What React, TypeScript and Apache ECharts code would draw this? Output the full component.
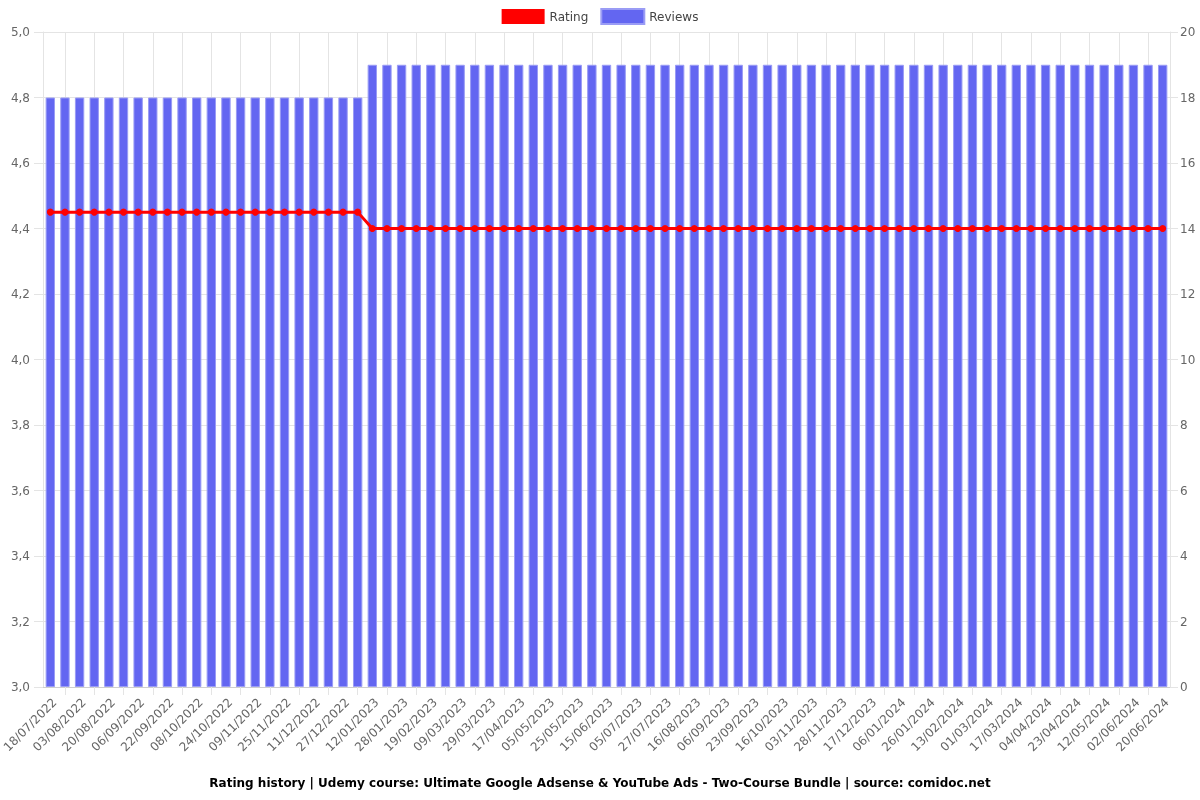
import React, { useEffect, useRef } from "react";
import * as echarts from "echarts";

const dates: string[] = [
  "18/07/2022", "26/07/2022", "03/08/2022", "12/08/2022", "20/08/2022", "29/08/2022",
  "06/09/2022", "14/09/2022", "22/09/2022", "30/09/2022", "08/10/2022", "16/10/2022",
  "24/10/2022", "01/11/2022", "09/11/2022", "17/11/2022", "25/11/2022", "03/12/2022",
  "11/12/2022", "19/12/2022", "27/12/2022", "04/01/2023", "12/01/2023", "20/01/2023",
  "28/01/2023", "08/02/2023", "19/02/2023", "28/02/2023", "09/03/2023", "19/03/2023",
  "29/03/2023", "07/04/2023", "17/04/2023", "26/04/2023", "05/05/2023", "15/05/2023",
  "25/05/2023", "04/06/2023", "15/06/2023", "25/06/2023", "05/07/2023", "16/07/2023",
  "27/07/2023", "06/08/2023", "16/08/2023", "27/08/2023", "06/09/2023", "15/09/2023",
  "23/09/2023", "04/10/2023", "16/10/2023", "25/10/2023", "03/11/2023", "15/11/2023",
  "28/11/2023", "07/12/2023", "17/12/2023", "27/12/2023", "06/01/2024", "16/01/2024",
  "26/01/2024", "04/02/2024", "13/02/2024", "21/02/2024", "01/03/2024", "09/03/2024",
  "17/03/2024", "26/03/2024", "04/04/2024", "13/04/2024", "23/04/2024", "02/05/2024",
  "12/05/2024", "22/05/2024", "02/06/2024", "11/06/2024", "20/06/2024",
];

const ratings: number[] = [
  4.45, 4.45, 4.45, 4.45, 4.45, 4.45, 4.45, 4.45, 4.45, 4.45, 4.45,
  4.45, 4.45, 4.45, 4.45, 4.45, 4.45, 4.45, 4.45, 4.45, 4.45, 4.45,
  4.4, 4.4, 4.4, 4.4, 4.4, 4.4, 4.4, 4.4, 4.4, 4.4, 4.4,
  4.4, 4.4, 4.4, 4.4, 4.4, 4.4, 4.4, 4.4, 4.4, 4.4, 4.4,
  4.4, 4.4, 4.4, 4.4, 4.4, 4.4, 4.4, 4.4, 4.4, 4.4, 4.4,
  4.4, 4.4, 4.4, 4.4, 4.4, 4.4, 4.4, 4.4, 4.4, 4.4, 4.4,
  4.4, 4.4, 4.4, 4.4, 4.4, 4.4, 4.4, 4.4, 4.4, 4.4, 4.4,
];

const reviews: number[] = [
  18, 18, 18, 18, 18, 18, 18, 18, 18, 18, 18,
  18, 18, 18, 18, 18, 18, 18, 18, 18, 18, 18,
  19, 19, 19, 19, 19, 19, 19, 19, 19, 19, 19,
  19, 19, 19, 19, 19, 19, 19, 19, 19, 19, 19,
  19, 19, 19, 19, 19, 19, 19, 19, 19, 19, 19,
  19, 19, 19, 19, 19, 19, 19, 19, 19, 19, 19,
  19, 19, 19, 19, 19, 19, 19, 19, 19, 19, 19,
];

const titleText =
  "Rating history | Udemy course: Ultimate Google Adsense & YouTube Ads - Two-Course Bundle | source: comidoc.net";

const FONT = "DejaVu Sans";
const GRID_COLOR = "#e4e4e4";
const LABEL_COLOR = "#666";

export default function App() {
  const ref = useRef<HTMLDivElement>(null);

  useEffect(() => {
    if (!ref.current) return;
    const chart = echarts.init(ref.current, null, { renderer: "svg" });
    const oddOnly = (i: number) => i % 2 === 1;
    chart.setOption({
      animation: false,
      textStyle: { fontFamily: FONT },
      title: {
        text: titleText,
        left: "center",
        top: 772,
        textStyle: { fontFamily: FONT, fontSize: 12, fontWeight: "bold", color: "#000" },
      },
      legend: {
        top: 3,
        left: "center",
        itemWidth: 43,
        itemHeight: 15,
        itemGap: 12,
        icon: "rect",
        textStyle: { fontFamily: FONT, fontSize: 12, color: "#444" },
        data: ["Rating", "Reviews"],
      },
      grid: {
        left: 43,
        right: 30,
        top: 32,
        bottom: 113,
        containLabel: false,
        outerBoundsMode: "none",
      },
      xAxis: {
        type: "category",
        data: dates,
        boundaryGap: true,
        axisLine: { show: true, lineStyle: { color: "#cfcfcf" } },
        axisTick: {
          show: true,
          alignWithLabel: true,
          interval: oddOnly,
          length: 8,
          lineStyle: { color: GRID_COLOR },
        },
        splitLine: {
          show: true,
          alignWithLabel: true,
          interval: oddOnly,
          lineStyle: { color: GRID_COLOR },
        },
        axisLabel: {
          interval: 1,
          rotate: 45,
          verticalAlign: "top",
          fontFamily: FONT,
          fontSize: 12,
          color: LABEL_COLOR,
          margin: 9,
        },
      },
      yAxis: [
        {
          type: "value",
          min: 3,
          max: 5,
          interval: 0.2,
          position: "left",
          axisLine: { show: true, lineStyle: { color: GRID_COLOR } },
          axisTick: { show: true, length: 9, lineStyle: { color: GRID_COLOR } },
          splitLine: { show: true, lineStyle: { color: GRID_COLOR } },
          axisLabel: {
            fontFamily: FONT,
            fontSize: 12,
            color: LABEL_COLOR,
            margin: 13,
            formatter: (v: number) => v.toFixed(1).replace(".", ","),
          },
        },
        {
          type: "value",
          min: 0,
          max: 20,
          interval: 2,
          position: "right",
          axisLine: { show: true, lineStyle: { color: GRID_COLOR } },
          axisTick: { show: true, length: 8, lineStyle: { color: GRID_COLOR } },
          splitLine: { show: false },
          axisLabel: { fontFamily: FONT, fontSize: 12, color: LABEL_COLOR, margin: 10 },
        },
      ],
      series: [
        {
          name: "Rating",
          type: "line",
          yAxisIndex: 0,
          data: ratings,
          z: 5,
          symbol: "circle",
          symbolSize: 7,
          itemStyle: { color: "#ff0000" },
          lineStyle: { color: "#ff0000", width: 3 },
        },
        {
          name: "Reviews",
          type: "bar",
          yAxisIndex: 1,
          data: reviews,
          z: 2,
          barCategoryGap: "36%",
          itemStyle: { color: "#6366f1", borderColor: "#9a9cf5", borderWidth: 1 },
        },
      ],
    });
    return () => chart.dispose();
  }, []);

  return (
    <div
      ref={ref}
      style={{ position: "fixed", left: 0, top: 0, width: 1200, height: 800 }}
    />
  );
}
